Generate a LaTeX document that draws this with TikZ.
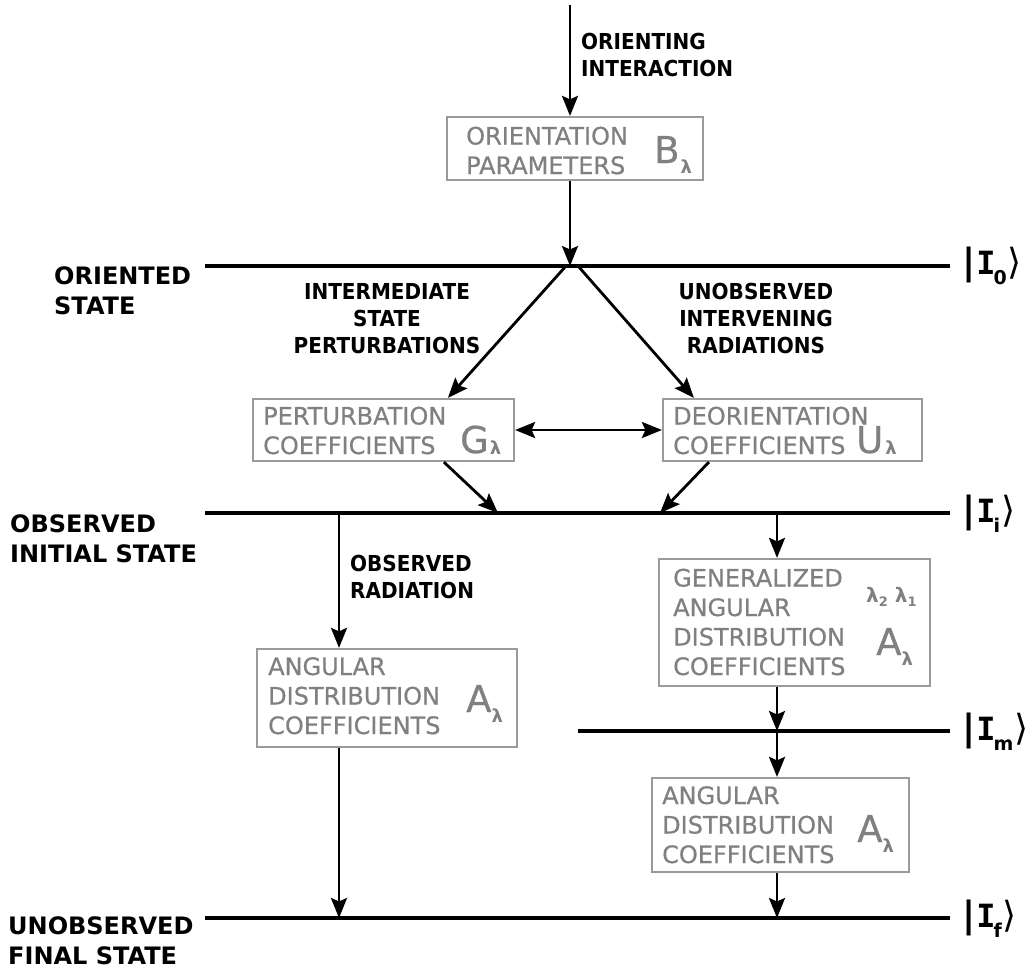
\documentclass[tikz,border=0pt]{standalone}
\usepackage{fontspec}
\setmainfont{DejaVu Sans}
\newfontfamily\condfont{DejaVu Sans}[FakeStretch=0.91]
\newfontfamily\boxfont{DejaVu Sans}[FakeBold=0.6]
\newfontfamily\monofam{DejaVu Sans Mono}
\usetikzlibrary{arrows.meta,calc}
\definecolor{boxtext}{HTML}{808080}
\definecolor{boxline}{HTML}{9A9A9A}
\newcommand\kettext[1]{{\bfseries\fontsize{36}{36}\selectfont|}\kern1pt{\monofam\bfseries\fontsize{32}{32}\selectfont I}\kern-2pt\raisebox{-10pt}{\bfseries\fontsize{19}{19}\selectfont #1}\kern1pt{\fontsize{36}{36}\selectfont ⟩}}
\newcommand\symb[3]{{\boxfont\fontsize{37}{37}\selectfont #1}\kern#2\raisebox{#3}{\bfseries\fontsize{18}{18}\selectfont λ}}
\begin{document}
\begin{tikzpicture}[x=1pt,y=-1pt,
  stateline/.style={line width=3.4pt},
  tip/.tip={Stealth[length=20pt,width=16pt,inset=3.5pt]},
  arr/.style={line width=2.8pt,-tip},
  dblarr/.style={line width=2.8pt,tip-tip},
  coefbox/.style={draw=boxline,line width=2.2pt,inner sep=0pt},
  boxtxt/.style={text=boxtext,font=\boxfont\fontsize{24}{29.5}\selectfont,align=left,anchor=base west,inner sep=0pt},
  toplbl/.style={font=\condfont\bfseries\fontsize{22}{27}\selectfont,inner sep=0pt},
  sidelbl/.style={font=\bfseries\fontsize{24}{30}\selectfont,align=left,anchor=base west,inner sep=0pt},
  symlbl/.style={text=boxtext,anchor=base west,inner sep=0pt},
  ketlbl/.style={anchor=base west,inner sep=0pt}]
\useasboundingbox (0,0) rectangle (1035,977);

% state lines
\coordinate (L0a) at (205,266); \coordinate (L0b) at (950,266);
\coordinate (Lia) at (205,513); \coordinate (Lib) at (950,513);
\coordinate (Lma) at (578,731); \coordinate (Lmb) at (950,731);
\coordinate (Lfa) at (205,918); \coordinate (Lfb) at (950,918);
\draw[stateline] (L0a) -- (L0b);
\draw[stateline] (Lia) -- (Lib);
\draw[stateline] (Lma) -- (Lmb);
\draw[stateline] (Lfa) -- (Lfb);

% kets
\node[ketlbl] (k0) at (962,274) {\kettext{0}};
\node[ketlbl] (ki) at (962,522) {\kettext{i}};
\node[ketlbl] (km) at (962,740) {\kettext{m}};
\node[ketlbl] (kf) at (962,927) {\kettext{f}};

% side labels (anchor = baseline of last line)
\node[sidelbl] (sl0) at (54,314) {ORIENTED\\STATE};
\node[sidelbl] (sli) at (10,562) {OBSERVED\\INITIAL STATE};
\node[sidelbl] (slf) at (8,964) {UNOBSERVED\\FINAL STATE};

% boxes
\node[coefbox,minimum width=256pt,minimum height=63pt] (B) at (575,148.5) {};
\node[coefbox,minimum width=261pt,minimum height=62pt] (G) at (383.5,430) {};
\node[coefbox,minimum width=259pt,minimum height=62pt] (U) at (792.5,430) {};
\node[coefbox,minimum width=271pt,minimum height=127pt] (GA) at (794.5,622.5) {};
\node[coefbox,minimum width=260pt,minimum height=98pt] (LA) at (387,698) {};
\node[coefbox,minimum width=257pt,minimum height=94pt] (RA) at (780.5,825) {};

% box texts (anchor = baseline of last line)
\node[boxtxt] (Bt) at (466,174) {ORIENTATION\\PARAMETERS};
\node[boxtxt] (Gt) at (263,454) {PERTURBATION\\COEFFICIENTS};
\node[boxtxt] (Ut) at (673,454) {DEORIENTATION\\COEFFICIENTS};
\node[boxtxt] (GAt) at (673,675) {GENERALIZED\\ANGULAR\\DISTRIBUTION\\COEFFICIENTS};
\node[boxtxt] (LAt) at (268,734) {ANGULAR\\DISTRIBUTION\\COEFFICIENTS};
\node[boxtxt] (RAt) at (662,863) {ANGULAR\\DISTRIBUTION\\COEFFICIENTS};

% symbols
\node[symlbl] (Bs) at (654,163) {\symb{B}{1pt}{-10pt}};
\node[symlbl] (Gs) at (460,453) {\symb{G}{1pt}{-1pt}};
\node[symlbl] (Us) at (856,453) {\symb{U}{2pt}{-1pt}};
\node[symlbl] (GAs) at (876,655) {\symb{A}{0pt}{-10pt}};
\node[symlbl] (GAl) at (866,602) {\bfseries\fontsize{20}{20}\selectfont λ\raisebox{-4pt}{\fontsize{13}{13}\selectfont 2} λ\raisebox{-4pt}{\fontsize{13}{13}\selectfont 1}};
\node[symlbl] (LAs) at (466,712) {\symb{A}{0pt}{-10pt}};
\node[symlbl] (RAs) at (857,842) {\symb{A}{0pt}{-10pt}};

% top labels (anchor = baseline of last line)
\node[toplbl,align=left,anchor=base west] (oi) at (581,76) {ORIENTING\\INTERACTION};
\node[toplbl,align=center,anchor=base] (isp) at (387,353) {INTERMEDIATE\\STATE\\PERTURBATIONS};
\node[toplbl,align=center,anchor=base] (uir) at (756,353) {UNOBSERVED\\INTERVENING\\RADIATIONS};
\node[toplbl,align=left,anchor=base west] (obr) at (350,598) {OBSERVED\\RADIATION};

% connectors
\coordinate (top) at (570,5);
\coordinate (o0) at (570,266);
\coordinate (o0l) at (566,266);
\coordinate (o0r) at (578,266);
\draw[arr] (top) -- (top |- B.north);
\draw[arr] (top |- B.south) -- (o0);
\draw[arr] (o0l) -- ($(G.north west)+(196,0)$);
\draw[arr] (o0r) -- ($(U.north west)+(32,0)$);
\draw[dblarr] (G.east) -- (U.west);
\coordinate (gi) at (498,513);
\coordinate (ui) at (660,513);
\draw[arr] ($(G.south west)+(192,0)$) -- (gi);
\draw[arr] ($(U.south west)+(47,0)$) -- (ui);

\coordinate (ii1) at (339,513);
\coordinate (if1) at (339,918);
\draw[arr] (ii1) -- (ii1 |- LA.north);
\draw[arr] (ii1 |- LA.south) -- (if1);

\coordinate (ii2) at (777,513);
\coordinate (im2) at (777,731);
\coordinate (if2) at (777,918);
\draw[arr] (ii2) -- (ii2 |- GA.north);
\draw[arr] (ii2 |- GA.south) -- (im2);
\draw[arr] (im2) -- (im2 |- RA.north);
\draw[arr] (im2 |- RA.south) -- (if2);
\end{tikzpicture}
\end{document}
